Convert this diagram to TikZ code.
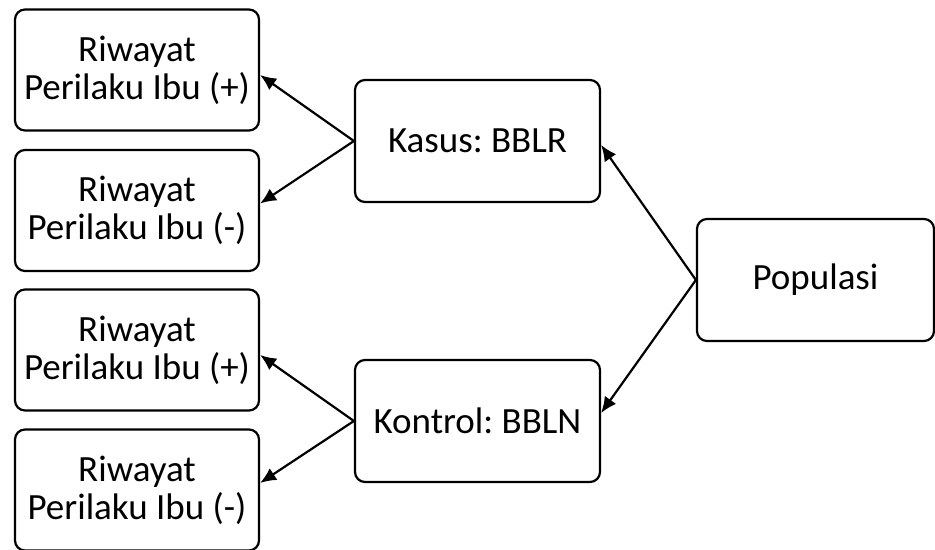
\documentclass[tikz,border=0pt]{standalone}
\usepackage{fontspec}
\setmainfont{Carlito}
\frenchspacing
\usetikzlibrary{calc}
\usetikzlibrary{arrows.meta}

\begin{document}
\begin{tikzpicture}[unit length/.code={{\newdimen\tikzunit}\setlength{\tikzunit}{#1}},unit length=0.5pt,x=\tikzunit,y=\tikzunit,line width=1.1pt,box/.style={rectangle,draw,rounded corners=5pt,align=center,font=\fontsize{18.5}{19}\selectfont},wire/.style={draw,-{Latex[length=8pt,width=7pt]}}]
  \useasboundingbox (0,0) rectangle (935,-550);
  \node[box,minimum width=244\tikzunit,minimum height=121\tikzunit] (rp1) at (137,-70) {Riwayat\\Perilaku Ibu (+)};
  \node[box,minimum width=244\tikzunit,minimum height=121\tikzunit] (rn1) at (137,-210.5) {Riwayat\\Perilaku Ibu (-)};
  \node[box,minimum width=244\tikzunit,minimum height=121\tikzunit] (rp2) at (137,-350) {Riwayat\\Perilaku Ibu (+)};
  \node[box,minimum width=244\tikzunit,minimum height=121\tikzunit] (rn2) at (137,-490) {Riwayat\\Perilaku Ibu (-)};
  \node[box,minimum width=245\tikzunit,minimum height=122\tikzunit] (kasus) at (477.5,-141) {Kasus: BBLR};
  \node[box,minimum width=245\tikzunit,minimum height=122\tikzunit] (kontrol) at (477.5,-421) {Kontrol: BBLN};
  \node[box,minimum width=237\tikzunit,minimum height=122\tikzunit] (populasi) at (815.5,-280) {Populasi};
  \path[wire] (populasi.west) -- ($(kasus.east)+(0,-4)$);
  \path[wire] (populasi.west) -- ($(kontrol.east)+(0,8)$);
  \path[wire] (kasus.west) -- ($(rp1.east)+(0,-5)$);
  \path[wire] (kasus.west) -- ($(rn1.east)+(0,7)$);
  \path[wire] (kontrol.west) -- ($(rp2.east)+(0,-5)$);
  \path[wire] (kontrol.west) -- ($(rn2.east)+(0,7)$);
\end{tikzpicture}
\end{document}
